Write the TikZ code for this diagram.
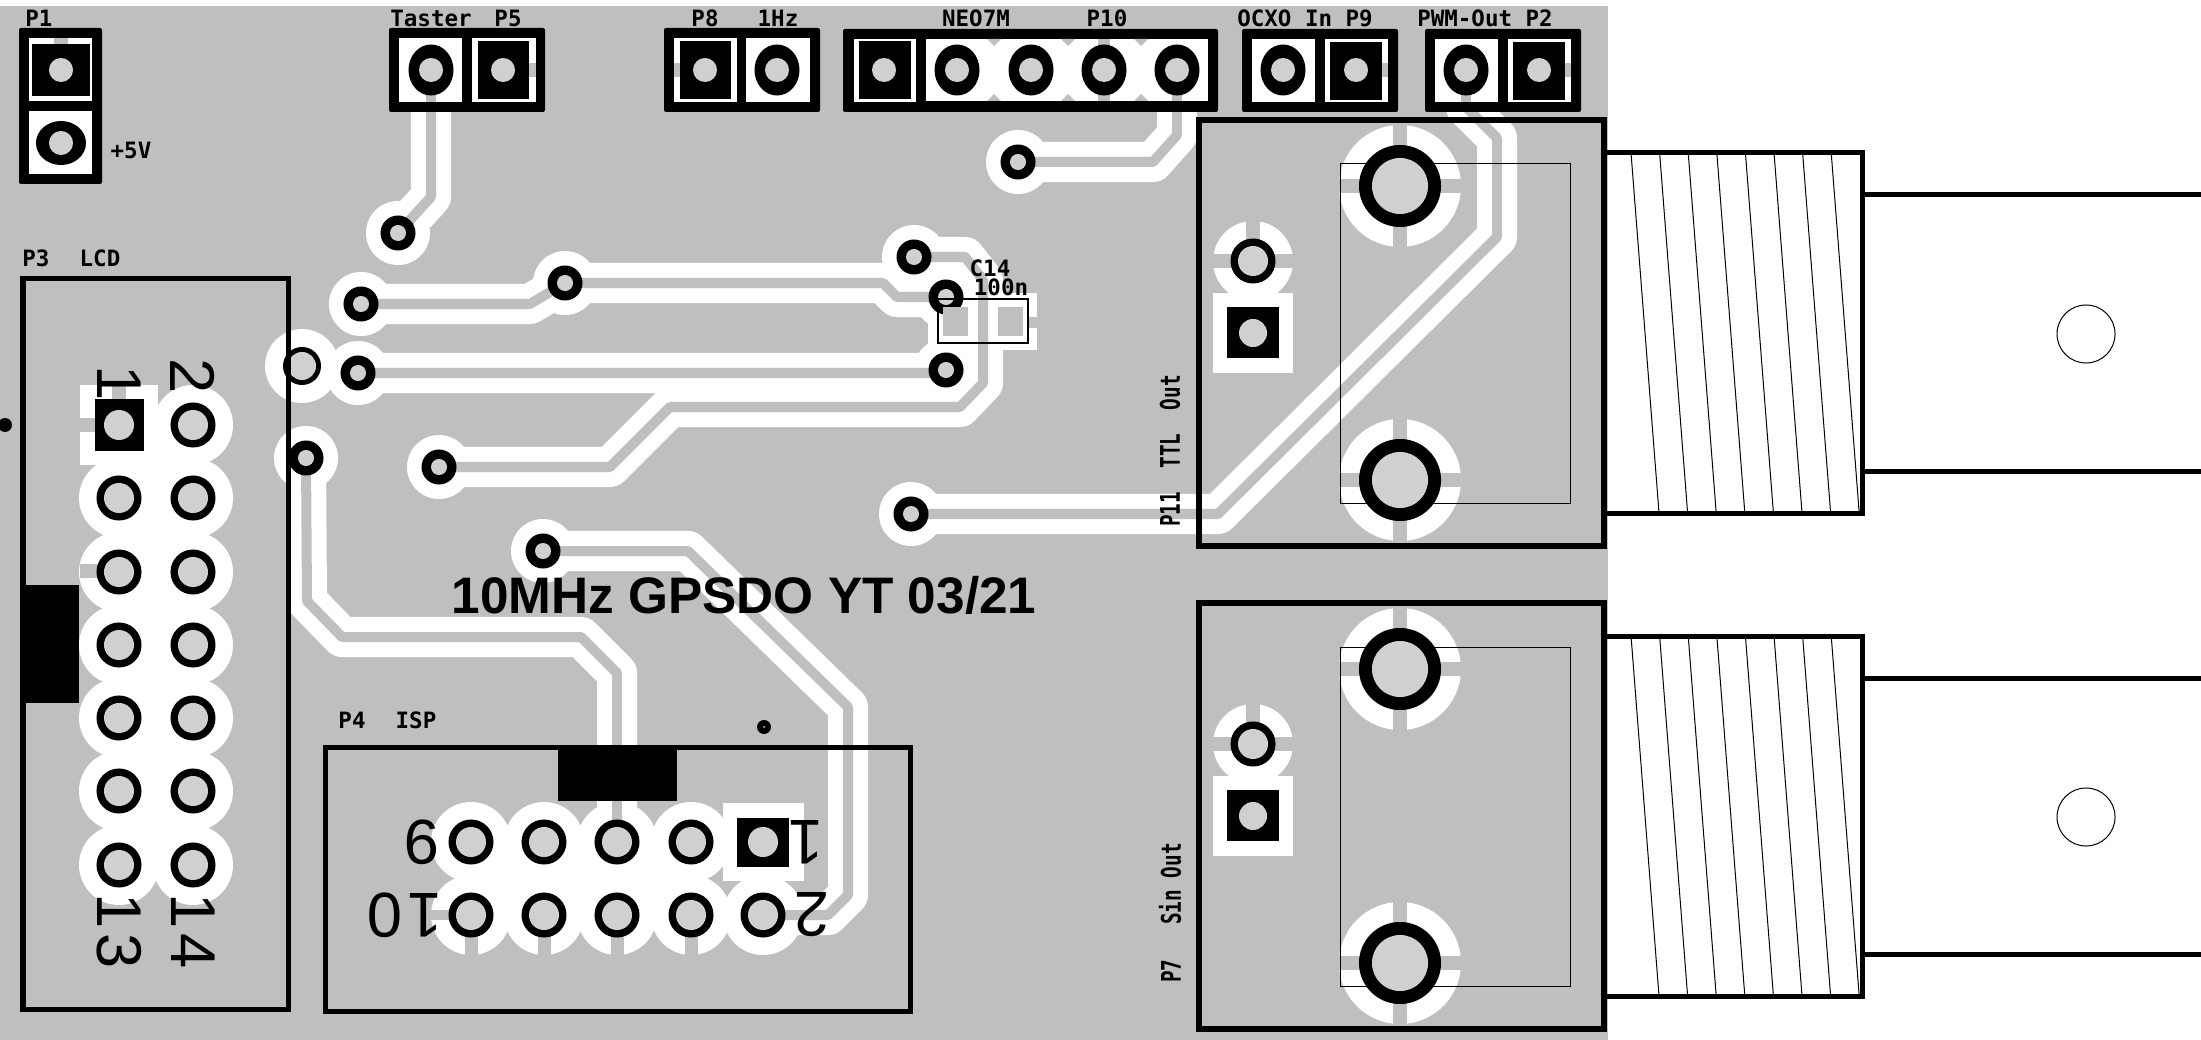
\documentclass[tikz,border=0pt]{standalone}
\usepackage{fontspec}
\newfontfamily\silkfont{DejaVu Sans Mono}[Scale=1]
\newfontfamily\titlefont{Liberation Sans}
\usetikzlibrary{shapes.geometric}
\definecolor{boardgrey}{HTML}{BFBFBF}
\definecolor{holegrey}{HTML}{D0D0D0}
\tikzset{
    holept/.style={circle,fill=holegrey,inner sep=0pt,minimum size=#1*0.02cm},
    viapad/.style={circle,fill=black,inner sep=0pt,minimum size=0.35cm},
    ringpad/.style={ellipse,fill=black,inner sep=0pt,minimum width=0.45cm,minimum height=0.51cm},
    ringside/.style={ellipse,fill=black,inner sep=0pt,minimum width=0.50cm,minimum height=0.44cm},
    rowpad/.style={circle,fill=black,inner sep=0pt,minimum size=0.45cm},
    trackwhite/.style={white,line width=0.40cm,line join=round},
    trackcore/.style={boardgrey,line width=0.10cm,line join=round},
    spoke/.style={boardgrey,line width=0.14cm},
    frameline/.style={black,line width=0.05cm},
    silk/.style={font=\silkfont\fontsize{6.4}{7}\selectfont\bfseries,inner sep=0pt,text=black},
    sidesilk/.style={font=\silkfont\fontsize{5.5}{7}\selectfont\bfseries,inner sep=0pt,text=black,rotate=90},
    bignum/.style={font=\titlefont\fontsize{18}{20}\selectfont,inner sep=0pt,text=black}
}
\newcommand{\trackpaths}{
    (431,70) -- (431,197) -- (viaT)
    (viaA) -- (530,304) -- (viaB) -- (883,283) -- (897,297) -- (viaC14a)
    (viaD) -- (946,373)
    (viaE) -- (610,467) -- (670,407) -- (960,407) -- (983,383) -- (983,280) -- (965,257) -- (viaC14b)
    (viaN) -- (1153,162) -- (1177,135) -- (1177,70)
    (viaTTL) -- (1218,514) -- (1497,237) -- (1497,138) -- (1466,107) -- (1466,70)
    (viaF) -- (307,601) -- (342,637) -- (581,637) -- (617,673) -- (617,842)
    (viaG) -- (688,551) -- (848,707) -- (848,895) -- (828,915) -- (763,915)
}
\begin{document}
\begin{tikzpicture}[x=0.01cm,y=-0.01cm]
    \path[use as bounding box,fill=white] (0,0) rectangle (2201,1040);
    \fill[boardgrey] (0,6) rectangle (1608,1040);

    \coordinate (viaT) at (398,233);
    \coordinate (viaA) at (361,304);
    \coordinate (viaB) at (565,283);
    \coordinate (viaC14a) at (946,297);
    \coordinate (viaC14b) at (914,257);
    \coordinate (viaC) at (946,370);
    \coordinate (viaD) at (358,373);
    \coordinate (viaE) at (439,467);
    \coordinate (viaF) at (306,458);
    \coordinate (viaG) at (543,551);
    \coordinate (viaN) at (1018,162);
    \coordinate (viaTTL) at (911,514);
    \coordinate (viaBig) at (302,366);

    \foreach \v in {viaT,viaA,viaB,viaC14a,viaC14b,viaC,viaD,viaE,viaF,viaG,viaN,viaTTL}
        \fill[white] (\v) circle (32);
    \fill[white] (viaBig) circle (37);
    \fill[white] (928,293) rectangle (1037,350);
    \draw[trackwhite] \trackpaths;

    \fill[white] (80,385) rectangle (158,465);
    \fill[white] (119,425) rectangle (193,865);
    \fill[white] (471,842) rectangle (691,915);
    \fill[white] (723,803) rectangle (804,881);
    \foreach \rowy in {425,498,572,645,718,791,865}
        \fill[white] (193,\rowy) circle (40);
    \foreach \rowy in {498,572,645,718,791,865}
        \fill[white] (119,\rowy) circle (40);
    \foreach \colx in {471,544,617,691}
        \fill[white] (\colx,842) circle (40);
    \foreach \colx in {471,544,617,691,763}
        \fill[white] (\colx,915) circle (40);

    \foreach \dy in {0,483} {
        \fill[white] (1400,186+\dy) circle (61);
        \fill[white] (1400,480+\dy) circle (61);
        \fill[white] (1253,261+\dy) circle (40);
        \fill[white] (1213,293+\dy) rectangle (1293,373+\dy);
    }

    \draw[trackcore] \trackpaths;

    \foreach \dy in {0,483} {
        \draw[spoke] (1400,125+\dy) -- (1400,247+\dy);
        \draw[spoke] (1339,186+\dy) -- (1461,186+\dy);
        \draw[spoke] (1400,419+\dy) -- (1400,541+\dy);
        \draw[spoke] (1339,480+\dy) -- (1461,480+\dy);
        \draw[spoke] (1253,221+\dy) -- (1253,261+\dy);
        \draw[spoke] (1213,261+\dy) -- (1293,261+\dy);
    }
    \foreach \colx in {471,544,617,691}
        \draw[boardgrey,line width=0.13cm] (\colx,915) -- (\colx,955);
    \draw[boardgrey,line width=0.10cm] (431,915) -- (471,915);
    \draw[spoke] (80,425) -- (119,425);
    \draw[spoke] (119,385) -- (119,425);
    \draw[spoke] (80,571) -- (119,571);

    \foreach \xa/\ya/\xb/\yb in {19/28/102/184,389/28/545/112,664/28/820/112,843/29/1218/112,1242/29/1398/112,1425/29/1581/112}
        \fill[black,rounded corners=0.02cm] (\xa,\ya) rectangle (\xb,\yb);
    \foreach \xa/\ya/\xb/\yb in {29/38/92/101,29/111/92/174,399/38/462/102,472/38/536/102,674/38/737/102,746/38/810/102,854/39/916/102,926/39/1208/101,1252/39/1315/102,1325/39/1388/102,1435/39/1498/102,1508/39/1571/102}
        \fill[white] (\xa,\ya) rectangle (\xb,\yb);

    \fill[boardgrey] (54,38) rectangle (68,44);
    \fill[boardgrey] (529,63) rectangle (536,77);
    \fill[boardgrey] (674,63) rectangle (680,77);
    \fill[boardgrey] (1382,63) rectangle (1388,77);
    \fill[boardgrey] (1565,63) rectangle (1571,77);
    \fill[boardgrey] (1098,39) rectangle (1110,101);
    \fill[boardgrey] (426,90) rectangle (436,102);
    \fill[boardgrey] (1172,90) rectangle (1182,101);
    \fill[boardgrey] (1461,90) rectangle (1471,102);
    \foreach \nx in {994,1068,1141} {
        \fill[boardgrey] (\nx-7,39) -- (\nx+7,39) -- (\nx,46) -- cycle;
        \fill[boardgrey] (\nx-7,101) -- (\nx+7,101) -- (\nx,94) -- cycle;
    }

    \foreach \xa/\ya/\xb/\yb in {32/44/90/96,478/41/529/99,680/41/731/99,859/41/911/99,1330/42/1382/100,1513/42/1565/100,95/399/144/451,737/818/789/867}
        \fill[black] (\xa,\ya) rectangle (\xb,\yb);
    \foreach \hx/\hy in {61/70,503/70,705/70,884/70,1356/70,1539/70}
        \node[holept=12] at (\hx,\hy) (sq-\hx) {};
    \node[holept=15] at (119,425) (lcd-1) {};
    \node[holept=15] at (763,842) (isp-1) {};

    \foreach \rx in {431,777,957,1031,1104,1177,1283,1466} {
        \node[ringpad] at (\rx,70) (ring-\rx) {};
        \node[holept=12] at (ring-\rx) {};
    }
    \node[ringside] at (61,143) (ring-p1) {};
    \node[holept=12] at (ring-p1) {};

    \foreach \v in {viaT,viaA,viaB,viaC14a,viaC14b,viaC,viaD,viaE,viaF,viaG,viaN,viaTTL} {
        \node[viapad] at (\v) (\v-ring) {};
        \node[holept=8] at (\v) {};
    }
    \node[circle,fill=black,inner sep=0pt,minimum size=0.38cm] at (viaBig) (big-ring) {};
    \node[holept=14] at (viaBig) {};

    \foreach \rowy in {425,498,572,645,718,791,865} {
        \node[rowpad] at (193,\rowy) (lcdr-\rowy) {};
        \node[holept=15] at (lcdr-\rowy) {};
    }
    \foreach \rowy in {498,572,645,718,791,865} {
        \node[rowpad] at (119,\rowy) (lcdl-\rowy) {};
        \node[holept=15] at (lcdl-\rowy) {};
    }
    \foreach \colx in {471,544,617,691} {
        \node[rowpad] at (\colx,842) (ispt-\colx) {};
        \node[holept=15] at (ispt-\colx) {};
    }
    \foreach \colx in {471,544,617,691,763} {
        \node[rowpad] at (\colx,915) (ispb-\colx) {};
        \node[holept=15] at (ispb-\colx) {};
    }

    \fill[boardgrey] (943,307) rectangle (968,336);
    \fill[boardgrey] (998,307) rectangle (1023,336);
    \fill[boardgrey] (1028,317) rectangle (1037,328);
    \draw[black,line width=0.02cm] (938,299) rectangle (1028,343);

    \fill[black] (5,425) circle (7);
    \fill[black] (764,727) circle (7);
    \fill[holegrey] (764,727) circle (1);

    \draw[frameline] (23,279) rectangle (288,1009);
    \draw[frameline] (325,747) rectangle (910,1011);
    \fill[black] (23,585) rectangle (79,703);
    \fill[black] (558,748) rectangle (677,801);

    \foreach \dy in {0,483} {
        \draw[frameline,line width=0.055cm] (1199,120+\dy) rectangle (1604,546+\dy);
        \draw[black,line width=0.01cm] (1340,164+\dy) rectangle (1570,503+\dy);
        \node[circle,fill=black,inner sep=0pt,minimum size=0.82cm] at (1400,186+\dy) (bnc-a-\dy) {};
        \node[holept=28] at (bnc-a-\dy) {};
        \node[circle,fill=black,inner sep=0pt,minimum size=0.82cm] at (1400,480+\dy) (bnc-b-\dy) {};
        \node[holept=28] at (bnc-b-\dy) {};
        \node[rowpad] at (1253,261+\dy) (bnc-c-\dy) {};
        \node[holept=15] at (bnc-c-\dy) {};
        \fill[black] (1227,307+\dy) rectangle (1279,358+\dy);
        \node[holept=14] at (1253,333+\dy) (bnc-d-\dy) {};
        \draw[frameline] (1606,153+\dy) -- (1862,153+\dy) -- (1862,513+\dy) -- (1606,513+\dy);
        \draw[frameline] (1862,195+\dy) -- (2201,195+\dy);
        \draw[frameline] (1862,471+\dy) -- (2201,471+\dy);
        \foreach \i in {0,...,7}
            \draw[black,line width=0.01cm] (1631+28.6*\i,153+\dy) -- (1659+28.6*\i,513+\dy);
        \node[circle,draw=black,line width=0.01cm,inner sep=0pt,minimum size=0.58cm] at (2086,334+\dy) (hole-\dy) {};
    }

    \node[silk] at (39,18) (lblP1) {P1};
    \node[silk] at (431,18) (lblTaster) {Taster};
    \node[silk] at (508,18) (lblP5) {P5};
    \node[silk] at (705,18) (lblP8) {P8};
    \node[silk] at (778,18) (lblHz) {1Hz};
    \node[silk] at (976,18) (lblNeo) {NEO7M};
    \node[silk] at (1107,18) (lblP10) {P10};
    \node[silk] at (1305,18) (lblOcxo) {OCXO In P9};
    \node[silk] at (1485,18) (lblPwm) {PWM-Out P2};
    \node[silk] at (131,150) (lblFive) {+5V};
    \node[silk] at (36,258) (lblP3) {P3};
    \node[silk] at (100,258) (lblLcd) {LCD};
    \node[silk] at (352,720) (lblP4) {P4};
    \node[silk] at (416,720) (lblIsp) {ISP};
    \node[silk] at (990,268) (lblC14) {C14};
    \node[silk] at (1001,287) (lblC14v) {100n};
    \node[sidesilk] at (1170,451) (lblTtl) {\scalebox{1}[1.4]{P11\ \ TTL\ \ Out}};
    \node[sidesilk] at (1170,913) (lblSin) {\scalebox{1}[1.4]{P7\ \ \ Sin\ Out}};

    \node[bignum,rotate=-90] at (119,383) (num1) {1};
    \node[bignum,rotate=-90] at (193,376) (num2) {2};
    \node[bignum,rotate=-90] at (119,931) (num13) {1\hspace{1.5pt}3};
    \node[bignum,rotate=-90] at (193,931) (num14) {1\hspace{1.5pt}4};
    \node[bignum,rotate=180] at (806,842) (numA) {1};
    \node[bignum,rotate=180] at (812,915) (numB) {2};
    \node[bignum,rotate=180] at (422,842) (numC) {9};
    \node[bignum,rotate=180] at (405,915) (numD) {1\hspace{1.5pt}0};

    \node[font=\titlefont\fontsize{14.6}{16}\selectfont\bfseries,inner sep=0pt] at (744,595) (title) {10MHz GPSDO YT 03/21};
\end{tikzpicture}
\end{document}
